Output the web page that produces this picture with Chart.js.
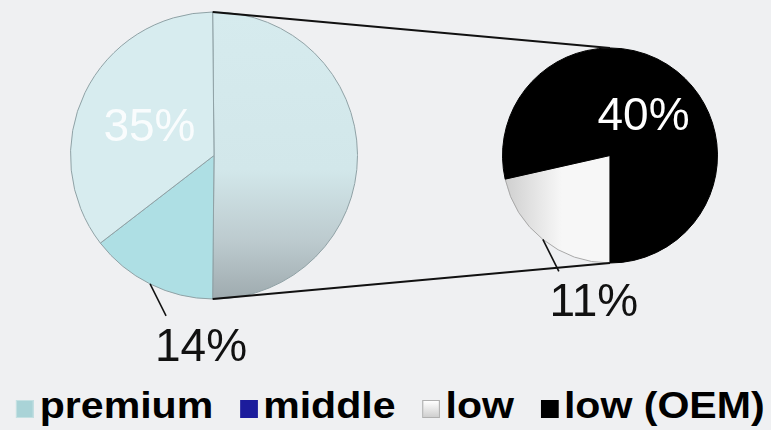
<!DOCTYPE html>
<html>
<head>
<meta charset="utf-8">
<title>Market split</title>
<script src="https://cdn.jsdelivr.net/npm/chart.js@4.4.1/dist/chart.umd.min.js"></script>
<style>
    html, body {
        margin: 0;
        padding: 0;
    }
    body {
        width: 771px;
        height: 430px;
        overflow: hidden;
        position: relative;
        background: #eff0f2;
        font-family: "Liberation Sans", Arial, sans-serif;
    }
    .chart-layer {
        position: absolute;
        left: 0;
        top: 0;
        width: 771px;
        height: 370px;
    }
    #legend {
        position: absolute;
        left: 5px;
        top: 386px;
        width: 771px;
        display: flex;
        justify-content: center;
        transform: scaleX(1.11);
        transform-origin: 385px 0;
        font-weight: bold;
        font-size: 37px;
        line-height: 40px;
        color: #000;
        white-space: nowrap;
    }
    .legend-item {
        display: flex;
        align-items: center;
        margin: 0 12px;
    }
    .legend-box {
        flex: 0 0 auto;
        display: block;
        width: 16px;
        height: 18px;
        margin-right: 5px;
        margin-top: 6px;
        box-sizing: border-box;
    }
</style>
</head>
<body>
<div class="chart-layer"><canvas id="mainPie"></canvas></div>
<div class="chart-layer"><canvas id="splitPie"></canvas></div>
<div id="legend"></div>

<script>
// categories and their share of the total (%)
const categories = ['premium', 'middle', 'low', 'low (OEM)'];
const shares = [35.3, 14.4, 10.8, 39.5];
// how many of the last categories are pulled out into the second pie
const splitCount = 2;

const legendColors = ['#a9d3d7', '#1c1c9c', '#f2f2f2', '#000000'];

let mainPie = null;
let splitPie = null;

const labelFont = '46px "Liberation Sans", Arial, sans-serif';

/**
 * Draw the percentage labels of a pie.
 * Big slices get the label inside, small ones outside with a leader line.
 */
const pieLabels = {
    id: 'pieLabels',
    afterDatasetsDraw(chart) {
        const ctx = chart.ctx;
        const ds = chart.data.datasets[0];
        const meta = chart.getDatasetMeta(0);
        const total = ds.data.reduce((a, b) => a + b, 0);

        ctx.save();
        ctx.font = labelFont;
        ctx.textAlign = 'center';
        ctx.textBaseline = 'alphabetic';

        meta.data.forEach((arc, i) => {
            const text = ds.pctLabels[i];
            if (!text) return;
            const share = ds.data[i] / total;

            if (share >= 0.3) {
                const pos = arc.tooltipPosition(true);
                ctx.fillStyle = ds.insideColor;
                ctx.fillText(text, pos.x, pos.y + 16.5);
            } else {
                const mid = (arc.startAngle + arc.endAngle) / 2;
                const px = arc.x + Math.cos(mid) * arc.outerRadius;
                const py = arc.y + Math.sin(mid) * arc.outerRadius;
                ctx.strokeStyle = '#111';
                ctx.lineWidth = 1.6;
                ctx.beginPath();
                ctx.moveTo(px, py);
                ctx.lineTo(px + 16, py + 32);
                ctx.stroke();
                ctx.fillStyle = '#111';
                ctx.fillText(text, px + 51, py + 77);
            }
        });
        ctx.restore();
    }
};

/**
 * Lines from the edges of the "other" slice to the top and bottom of the second pie
 */
const connectorLines = {
    id: 'connectorLines',
    afterDatasetsDraw(chart) {
        if (!mainPie) return;
        const other = mainPie.getDatasetMeta(0).data[0];
        const small = chart.getDatasetMeta(0).data[0];
        if (!other || !small) return;

        const ctx = chart.ctx;
        const r1 = other.outerRadius;
        const r2 = small.outerRadius;
        const topStart = {
            x: other.x + Math.cos(other.startAngle) * r1,
            y: other.y + Math.sin(other.startAngle) * r1
        };
        const bottomStart = {
            x: other.x + Math.cos(other.endAngle) * r1,
            y: other.y + Math.sin(other.endAngle) * r1
        };

        ctx.save();
        ctx.strokeStyle = '#111';
        ctx.lineWidth = 2;
        ctx.beginPath();
        ctx.moveTo(topStart.x, topStart.y);
        ctx.lineTo(small.x, small.y - r2);
        ctx.moveTo(bottomStart.x, bottomStart.y);
        ctx.lineTo(small.x, small.y + r2);
        ctx.stroke();
        ctx.restore();
    }
};

/**
 * Slice fills of the first pie: grey fade on the "other" slice
 */
function mainSliceFill(context) {
    const flat = ['#d4e9ec', '#aedfe4', '#d7ecef'];
    const area = context.chart.chartArea;
    if (context.dataIndex !== 0 || !area) return flat[context.dataIndex];
    const g = context.chart.ctx.createLinearGradient(0, area.top, 0, area.bottom);
    g.addColorStop(0, '#d6ebee');
    g.addColorStop(0.55, '#d2e7ea');
    g.addColorStop(0.8, '#bccace');
    g.addColorStop(1, '#9eaaae');
    return g;
}

/**
 * Slice fills of the second pie: soft grey shading on the white slice
 */
function splitSliceFill(context) {
    const flat = ['#f6f6f6', '#000000'];
    const area = context.chart.chartArea;
    if (context.dataIndex !== 0 || !area) return flat[context.dataIndex];
    const g = context.chart.ctx.createLinearGradient(area.left, 0, area.left + 60, 0);
    g.addColorStop(0, '#cdcdcd');
    g.addColorStop(1, '#f7f7f7');
    return g;
}

function baseOptions(padding, rotation) {
    return {
        responsive: true,
        maintainAspectRatio: false,
        animation: false,
        events: [],
        rotation: rotation,
        layout: { padding: padding },
        plugins: {
            legend: { display: false },
            tooltip: { enabled: false },
            title: { display: false }
        }
    };
}

/**
 * First pie: the kept categories plus one "other" slice
 */
function initMainPie() {
    const keep = categories.length - splitCount;
    const otherShare = shares.slice(keep).reduce((a, b) => a + b, 0);
    // slices clockwise: other, then kept categories from last to first
    const data = [otherShare];
    const labels = ['other'];
    for (let i = keep - 1; i >= 0; i--) {
        data.push(shares[i]);
        labels.push(categories[i]);
    }
    const pct = data.map((v, i) => i === 0 ? '' : Math.round(v) + '%');

    mainPie = new Chart(document.getElementById('mainPie'), {
        type: 'pie',
        data: {
            labels: labels,
            datasets: [{
                data: data,
                pctLabels: pct,
                insideColor: 'rgba(255, 255, 255, 0.85)',
                backgroundColor: mainSliceFill,
                borderColor: '#8fa1a5',
                borderWidth: 1
            }]
        },
        // other slice centred on the right side
        options: baseOptions({ left: 70, top: 11, right: 413, bottom: 70 }, 90 - otherShare * 1.8),
        plugins: [pieLabels]
    });
}

/**
 * Second pie: the split-out categories
 */
function initSplitPie() {
    const keep = categories.length - splitCount;
    const data = shares.slice(keep);
    const labels = categories.slice(keep);
    const pct = data.map(v => Math.round(v) + '%');

    splitPie = new Chart(document.getElementById('splitPie'), {
        type: 'pie',
        data: {
            labels: labels,
            datasets: [{
                data: data,
                pctLabels: pct,
                insideColor: '#ffffff',
                backgroundColor: splitSliceFill,
                borderColor: ['#a8a8a8', '#000000'],
                borderWidth: 1
            }]
        },
        options: baseOptions({ left: 502, top: 47, right: 53, bottom: 106 }, 180),
        plugins: [pieLabels, connectorLines]
    });
}

/**
 * Legend row under the pies
 */
function buildLegend() {
    const el = document.getElementById('legend');
    categories.forEach((name, i) => {
        const item = document.createElement('div');
        item.className = 'legend-item';
        const box = document.createElement('span');
        box.className = 'legend-box';
        box.style.background = legendColors[i];
        if (i === 2) {
            box.style.background = 'linear-gradient(#ffffff, #cfcfcf)';
            box.style.border = '1px solid #b0b0b0';
        }
        if (i === 0) {
            box.style.border = '1px solid #c4e0e2';
        }
        const text = document.createElement('span');
        text.textContent = name;
        item.appendChild(box);
        item.appendChild(text);
        el.appendChild(item);
    });
}

document.addEventListener('DOMContentLoaded', function() {
    if (typeof Chart === 'undefined') {
        console.error('Chart.js is not loaded');
        return;
    }
    initMainPie();
    initSplitPie();
    buildLegend();
});
</script>
</body>
</html>
